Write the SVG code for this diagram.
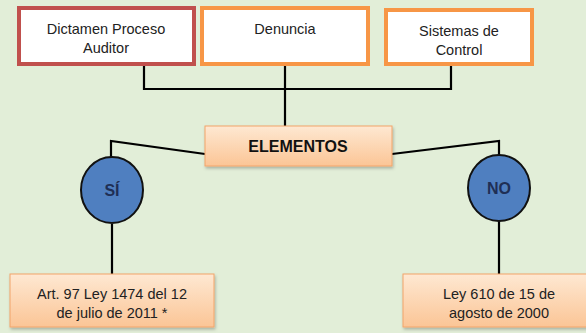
<svg xmlns="http://www.w3.org/2000/svg" width="586" height="333" viewBox="0 0 586 333">
<defs>
<linearGradient id="peach" x1="0" y1="0" x2="0" y2="1">
<stop offset="0" stop-color="#fee8d2"/>
<stop offset="1" stop-color="#fbc596"/>
</linearGradient>
<filter id="sh" x="-10%" y="-10%" width="120%" height="130%">
<feDropShadow dx="1" dy="2" stdDeviation="1.5" flood-color="#000" flood-opacity="0.25"/>
</filter>
</defs>
<style>
.t{font-family:"Liberation Sans",Arial,sans-serif;font-size:14.5px;fill:#222;text-anchor:middle}
.b{font-weight:bold;fill:#111;font-size:16px}
.c{font-family:"Liberation Sans",Arial,sans-serif;font-weight:bold;font-size:16px;fill:#1f2f55;text-anchor:middle}
.top{fill:#fff;stroke-width:4}
.pe{fill:url(#peach);stroke:#f2a46a;stroke-width:1;filter:url(#sh)}
.circ{fill:#4f7fc0;stroke:#111;stroke-width:2}
.ln{fill:none;stroke:#000;stroke-width:2.2}
</style>
<rect width="586" height="333" fill="#e2eed8"/>
<g id="connectors">
<path class="ln" d="M144 66 V89 H451 V66"/>
<path class="ln" d="M285 66 V126"/>
<path class="ln" d="M205 154 L111 141 V157"/>
<path class="ln" d="M392 154 L499 141 V156"/>
<path class="ln" d="M112 224 V274"/>
<path class="ln" d="M499 221 V274"/>
</g>
<g id="dictamen">
<rect class="top" x="19" y="8" width="175" height="56" stroke="#c0504d"/>
<text class="t" x="106" y="34">Dictamen Proceso</text>
<text class="t" x="106" y="53">Auditor</text>
</g>
<g id="denuncia">
<rect class="top" x="202" y="8" width="166" height="56" stroke="#f79646"/>
<text class="t" x="285" y="34">Denuncia</text>
</g>
<g id="sistemas">
<rect class="top" x="386" y="10" width="146" height="54" stroke="#f79646"/>
<text class="t" x="459" y="36">Sistemas de</text>
<text class="t" x="459" y="55">Control</text>
</g>
<g id="elementos">
<rect class="pe" x="205" y="126" width="187" height="40"/>
<text class="t b" x="298" y="152">ELEMENTOS</text>
</g>
<g id="si">
<ellipse class="circ" cx="112" cy="190" rx="31" ry="33"/>
<text class="c" x="112" y="196">SÍ</text>
</g>
<g id="no">
<ellipse class="circ" cx="499" cy="188" rx="31" ry="33"/>
<text class="c" x="499" y="194">NO</text>
</g>
<g id="art97">
<rect class="pe" x="10" y="274" width="204" height="53"/>
<text class="t" x="112" y="299">Art. 97 Ley 1474 del 12</text>
<text class="t" x="112" y="318">de julio de 2011 *</text>
</g>
<g id="ley610">
<rect class="pe" x="403" y="274" width="190" height="53"/>
<text class="t" x="499" y="299">Ley 610 de 15 de</text>
<text class="t" x="499" y="318">agosto de  2000</text>
</g>
</svg>
